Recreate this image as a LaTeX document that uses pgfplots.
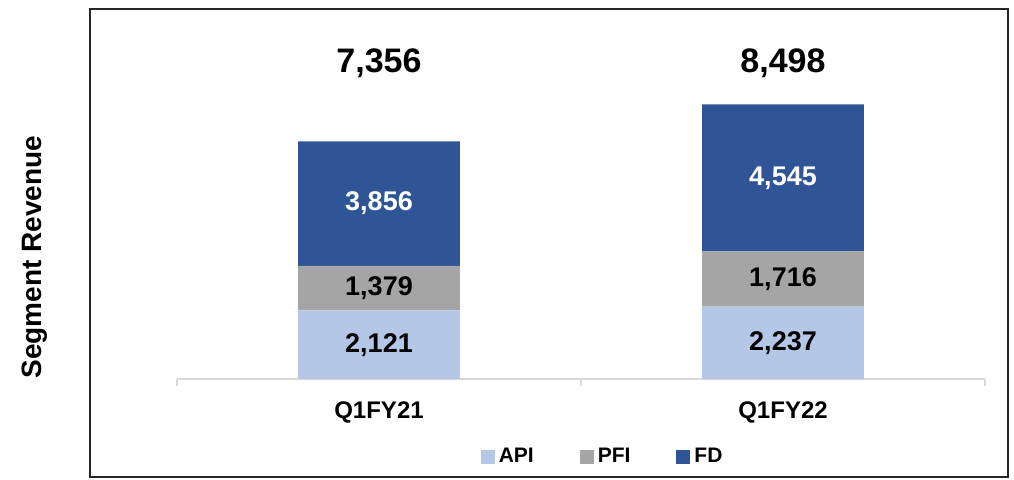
\documentclass[border=0pt]{standalone}
\usepackage{fontspec}
\setmainfont{Liberation Sans}
\usepackage{pgfplots}
\pgfplotsset{compat=1.18}
\usepackage{pgfplotstable}
\definecolor{apiBlue}{HTML}{B4C7E7}
\definecolor{pfiGray}{HTML}{A5A5A5}
\definecolor{fdBlue}{HTML}{2F5597}
\definecolor{axisGray}{HTML}{D9D9D9}

\pgfplotsset{/pgf/number format/.cd, 1000 sep={,}, assume math mode=true}

\pgfplotstableread{
x api  pfi  fd   total
0 2121 1379 3856 7356
1 2237 1716 4545 8498
}\revenue

\pgfplotsset{
  overlay axis/.style={scale only axis, width=404pt, height=185pt,
    xmin=-0.5, xmax=1.5, ymin=0, ymax=11450, hide axis},
  seglabel/.style={draw=none, mark=none, nodes near coords, point meta=explicit,
    nodes near coords style={anchor=center, #1, font=\bfseries\fontsize{13.5}{15}\selectfont}},
}

\begin{document}
\begin{tikzpicture}
\begin{axis}[
  scale only axis, width=404pt, height=185pt,
  ybar stacked, bar width=0.4,
  xmin=-0.5, xmax=1.5, ymin=0, ymax=11450,
  axis x line*=bottom, axis y line=none,
  x axis line style={axisGray, line width=0.9pt},
  xtick={0,1}, xticklabels={Q1FY21,Q1FY22},
  minor xtick={-0.5,0.5,1.5},
  major tick length=0pt, minor tick length=3.5pt,
  tick align=outside,
  minor tick style={axisGray, line width=0.9pt},
  xticklabel style={font=\bfseries\fontsize{12}{14}\selectfont, yshift=-8pt},
  legend columns=3,
  legend image code/.code={\fill[#1] (0pt,-3.5pt) rectangle (7pt,3.5pt);},
  legend style={draw=none, at={(0.528,-0.211)}, anchor=center,
    font=\bfseries\fontsize{10.5}{12}\selectfont,
    nodes={inner xsep=2pt},
    /tikz/every even column/.append style={column sep=21pt}},
]
\addplot[fill=apiBlue, draw=none] table[x=x, y=api] {\revenue};
\addplot[fill=pfiGray, draw=none] table[x=x, y=pfi] {\revenue};
\addplot[fill=fdBlue, draw=none] table[x=x, y=fd] {\revenue};
\legend{API,PFI,FD}
\end{axis}

% segment values in the middle of each segment, totals above the bars
\begin{axis}[overlay axis]
\addplot[seglabel=black] table[x=x, y expr=0.5*\thisrow{api}, meta=api] {\revenue};
\addplot[seglabel=black] table[x=x, y expr=\thisrow{api}+0.5*\thisrow{pfi}, meta=pfi] {\revenue};
\addplot[seglabel=white] table[x=x, y expr=\thisrow{api}+\thisrow{pfi}+0.5*\thisrow{fd}, meta=fd] {\revenue};
\addplot[draw=none, mark=none, nodes near coords, point meta=explicit,
  nodes near coords style={anchor=center, black, font=\bfseries\fontsize{17}{20}\selectfont}]
  table[x=x, y expr=9779, meta=total] {\revenue};
\end{axis}

\draw[black!85, line width=0.8pt]
  ([xshift=-43.5pt,yshift=-49pt]current axis.south west) rectangle
  ([xshift=11.5pt]current axis.north east);
\node[rotate=90, font=\bfseries\fontsize{14}{16}\selectfont]
  at ([xshift=-71pt,yshift=61pt]current axis.south west) {Segment Revenue};
\path ([xshift=-88.5pt,yshift=-50pt]current axis.south west) rectangle
  ([xshift=14.5pt,yshift=4.5pt]current axis.north east);
\end{tikzpicture}
\end{document}
